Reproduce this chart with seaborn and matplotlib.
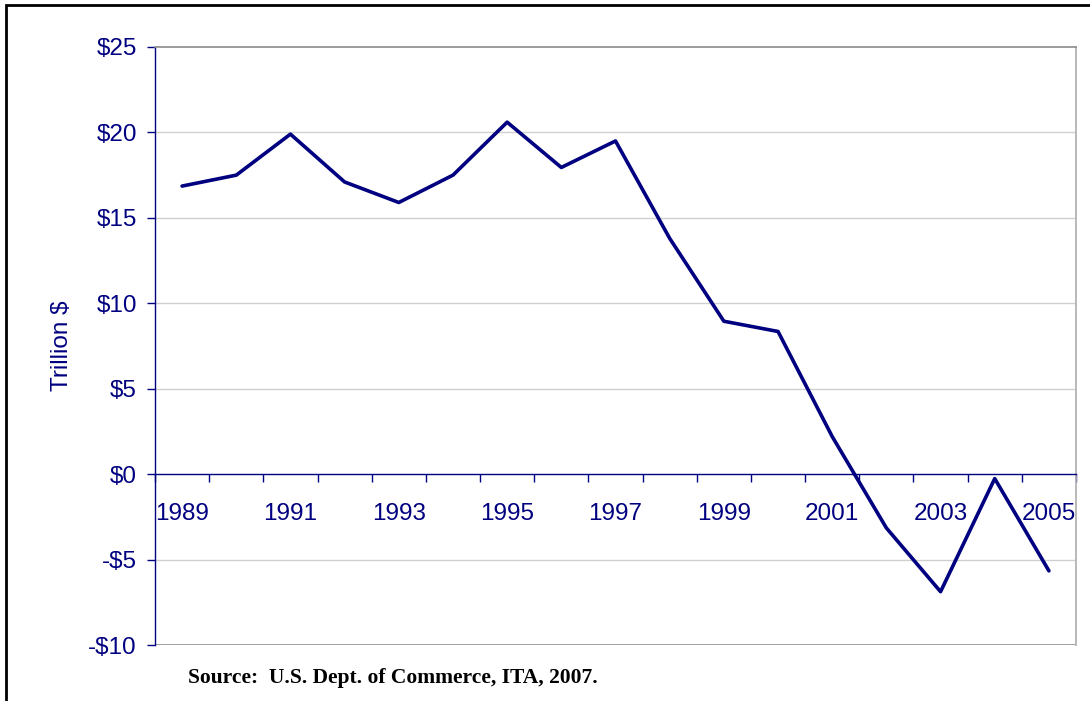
import numpy as np
import pandas as pd
import seaborn as sns
import matplotlib.pyplot as plt
from matplotlib.patches import Rectangle

sns.set_theme(style="white")
plt.rcParams['font.family'] = ['Liberation Sans', 'DejaVu Sans']

years = list(range(1989, 2006))
balance = [16.86, 17.5, 19.9, 17.1, 15.9, 17.5, 20.6, 17.95, 19.5,
           13.8, 8.95, 8.35, 2.2, -3.15, -6.88, -0.26, -5.66]
ytick_vals = [-10, -5, 0, 5, 10, 15, 20, 25]
ytick_labels = ["-$10", "-$5", "$0", "$5", "$10", "$15", "$20", "$25"]
label_years = years[::2]

navy = "#000080"
df = pd.DataFrame({"year": years, "balance": balance})

fig = plt.figure(figsize=(10.9, 7.01), dpi=100)
ax = fig.add_axes([155 / 1090, 1 - 645 / 701, (1076 - 155) / 1090, (645 - 47) / 701])

sns.lineplot(data=df, x="year", y="balance", ax=ax, color=navy, linewidth=2.6)

ax.set_xlim(years[0] - 0.5, years[-1] + 0.5)
ax.set_ylim(-10, 25)

# horizontal gridlines
for v in ytick_vals[1:-1]:
    if v != 0:
        ax.axhline(v, color="#d0d0d0", linewidth=1, zorder=0)

ax.set_yticks(ytick_vals)
ax.set_yticklabels(ytick_labels)
ax.tick_params(axis="y", which="major", direction="out", length=6, width=1,
               color=navy, labelcolor=navy, labelsize=17.5, pad=7, left=True)

# x axis sits on zero, ticks at category boundaries, labels at centres
ax.spines["bottom"].set_position(("data", 0))
ax.spines["bottom"].set_color(navy)
ax.spines["bottom"].set_linewidth(1)
ax.spines["left"].set_color(navy)
ax.spines["left"].set_linewidth(1)
ax.spines["top"].set_color("#909090")
ax.spines["right"].set_color("#b0b0b0")
ax.axhline(-10, color="#909090", linewidth=1.2, zorder=1)

ax.set_xticks(np.arange(years[0] - 0.5, years[-1] + 1.0, 1.0))
ax.set_xticklabels([])
ax.tick_params(axis="x", which="major", direction="out", length=6, width=1,
               color=navy, bottom=True)
ax.set_xticks(label_years, minor=True)
ax.set_xticklabels([str(y) for y in label_years], minor=True)
ax.tick_params(axis="x", which="minor", length=0, labelcolor=navy,
               labelsize=17.5, pad=21)

ax.set_xlabel("")
ax.set_ylabel("Trillion $", color=navy, fontsize=17.5, labelpad=11)

fig.text(188 / 1090, 1 - 683 / 701, "Source:  U.S. Dept. of Commerce, ITA, 2007.",
         family=["Liberation Serif", "DejaVu Serif"], weight="bold",
         fontsize=15.5, color="black", ha="left", va="baseline")

# outer frame (top and left visible)
fig.patches.append(Rectangle((6 / 1090, -0.05), 1.1, 1 - 5 / 701 + 0.05,
                             transform=fig.transFigure, fill=False,
                             edgecolor="black", linewidth=2))

fig.savefig("out.png", dpi=100)
